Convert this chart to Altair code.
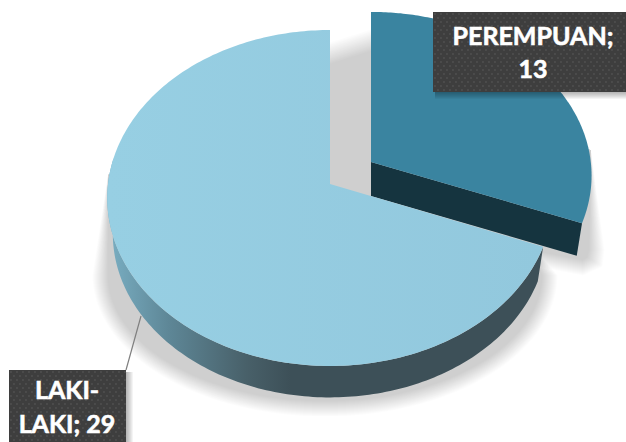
import altair as alt
import numpy as np
import pandas as pd

categories = ["PEREMPUAN", "LAKI-LAKI"]
values = [13, 29]

W, H = 626, 442
TOTAL = sum(values)
SPLIT = values[0] / TOTAL * 2 * np.pi

# perspective-tilted disc shared by both slices
A, B, K = 222.0, 166.8, 0.0833
DEPTH_SCALE = 0.975
RED_H, RED_V = 0.99, 0.975
RED_DEPTH, BLUE_DEPTH = 34.0, 36.0
CAKE = {"PEREMPUAN": (371.0, 162.0), "LAKI-LAKI": (330.0, 184.0)}

sx = alt.Scale(domain=[0, W], range=[0, W])
sy = alt.Scale(domain=[0, H], range=[0, H])


def arc(cx, cy, t0, t1, s=1.0, hs=1.0, vs=1.0, n=160):
    t = np.linspace(t0, t1, n)
    u, v = np.sin(t), -np.cos(t)
    d = 1 - K * v
    return np.c_[cx + s * hs * A * u / d, cy + s * vs * B * v / d]


def poly(points, **mark):
    pts = np.asarray(points)
    df = pd.DataFrame({"x": pts[:, 0], "y": pts[:, 1], "i": np.arange(len(pts))})
    return alt.Chart(df).mark_line(strokeWidth=0, interpolate="linear", **mark).encode(
        x=alt.X("x:Q", scale=sx, axis=None),
        y=alt.Y("y:Q", scale=sy, axis=None),
        order="i:Q",
    )


def box(x0, y0, x1, y1, **mark):
    df = pd.DataFrame({"x": [x0], "x2": [x1], "y": [y0], "y2": [y1]})
    return alt.Chart(df).mark_rect(**mark).encode(
        x=alt.X("x:Q", scale=sx, axis=None),
        x2="x2:Q",
        y=alt.Y("y:Q", scale=sy, axis=None),
        y2="y2:Q",
    )


layers = []
rx, ry = CAKE["PEREMPUAN"]
bx, by = CAKE["LAKI-LAKI"]

# flat grey floor shadow with a soft edge, built from stacked translucent outlines
STEPS = 16
SHADOW_ALPHA = 0.012
SHADOW_FLOOR = 416
for k in range(STEPS):
    e = 15 * (1 - k / (STEPS - 1)) - 7.5
    # behind the small slice and through the gap between the slices
    layers.append(
        poly(
            [
                [bx - 10, by - 128 - 1.4 * e],
                [rx, ry - 122 - 1.4 * e],
                [rx + 220, ry - 12],
                [rx + 226 + e, ry + 88],
                [rx + 224 + e, ry + 100 + e * 0.6],
                [rx + 212, ry + 106 + e],
                [rx + 160, ry + 96 + e],
                [bx, by + 10],
            ],
            fill="#000000",
            fillOpacity=SHADOW_ALPHA,
        )
    )
    # below the large slice: rounded at the foot, straight up to the widest point
    t = np.linspace(0, np.pi, 120)
    foot = np.c_[325 + (225 + e) * np.cos(t), 275 + (134 + e) * np.sin(t)]
    foot[:, 1] = np.minimum(foot[:, 1], SHADOW_FLOOR)
    layers.append(
        poly(
            np.vstack([foot, [[bx - 222, by - 10], [bx + 200, by + 60]]]),
            fill="#000000",
            fillOpacity=SHADOW_ALPHA,
        )
    )

# dark cut face of the pulled-out slice
top_end = arc(rx, ry, SPLIT, SPLIT, 1.0, RED_H, RED_V, 1)[0]
low_end = arc(rx, ry + RED_DEPTH, SPLIT, SPLIT, DEPTH_SCALE, RED_H, RED_V, 1)[0]
layers.append(poly([[rx, ry], top_end, low_end, [rx, ry + RED_DEPTH]], fill="#15343F"))
layers.append(poly(np.vstack([[rx, ry], arc(rx, ry, 0, SPLIT, 1.0, RED_H, RED_V)]), fill="#3A84A0"))

# curved rim of the large slice
rim_top = arc(bx, by, SPLIT, 1.55 * np.pi)
rim_low = arc(bx, by + BLUE_DEPTH, SPLIT, 1.55 * np.pi, DEPTH_SCALE)
layers.append(
    poly(
        np.vstack([rim_top, rim_low[::-1]]),
        fill=alt.Gradient(
            gradient="linear", x1=0, y1=0, x2=1, y2=0,
            stops=[
                alt.GradientStop(color="#7AAFC3", offset=0),
                alt.GradientStop(color="#5E8797", offset=0.14),
                alt.GradientStop(color="#486069", offset=0.32),
                alt.GradientStop(color="#3D5058", offset=0.42),
                alt.GradientStop(color="#3D5058", offset=1),
            ],
        ),
    )
)
layers.append(
    poly(
        np.vstack([[bx, by], arc(bx, by, SPLIT, 2 * np.pi, n=240)]),
        fill=alt.Gradient(
            gradient="linear", x1=0, y1=0, x2=1, y2=0,
            stops=[
                alt.GradientStop(color="#97CFE3", offset=0),
                alt.GradientStop(color="#92C8DD", offset=1),
            ],
        ),
    )
)

# leader line from the large slice to its label
leader = pd.DataFrame({"x": [141], "y": [316], "x2": [126], "y2": [370]})
layers.append(
    alt.Chart(leader).mark_rule(color="#7F7F7F", strokeWidth=1.2).encode(
        x=alt.X("x:Q", scale=sx, axis=None),
        y=alt.Y("y:Q", scale=sy, axis=None),
        x2="x2:Q",
        y2="y2:Q",
    )
)

# label plates with a staggered dot texture
PLATES = [
    (433, 12, 640, 92, [f"{categories[0]};", f"{values[0]}"], 533, [37, 70]),
    (9, 370, 126, 450, ["LAKI-", f"LAKI; {values[1]}"], 67, [391, 425]),
]
for x0, y0, x1, y1, lines, tx, tys in PLATES:
    for k in range(7, 0, -1):
        layers.append(box(x0 + 2, y0 + 2, x1 + k, y1 + k, color="#000000", opacity=0.045))
    layers.append(box(x0, y0, x1, y1, color="#3E3E3E"))
    rows = []
    for r, yy in enumerate(np.arange(y0 + 2, y1, 4)):
        for xx in np.arange(x0 + 2 + 3 * (r % 2), min(x1, W), 6):
            rows.append((xx, yy))
    dots = pd.DataFrame(rows, columns=["x", "y"])
    layers.append(
        alt.Chart(dots).mark_square(size=2.5, color="#545454", opacity=1).encode(
            x=alt.X("x:Q", scale=sx, axis=None),
            y=alt.Y("y:Q", scale=sy, axis=None),
        )
    )
    for line, ty in zip(lines, tys):
        t = pd.DataFrame({"x": [tx], "y": [ty], "t": [line]})
        layers.append(
            alt.Chart(t).mark_text(
                font="Lato", fontWeight="bold", fontSize=25, color="#FFFFFF",
                stroke="#FFFFFF", strokeWidth=0.6,
                align="center", baseline="middle",
            ).encode(
                x=alt.X("x:Q", scale=sx, axis=None),
                y=alt.Y("y:Q", scale=sy, axis=None),
                text="t:N",
            )
        )

chart = (
    alt.layer(*layers)
    .properties(width=W, height=H, padding=0, autosize=alt.AutoSizeParams(type="none"),
                background="#FFFFFF")
    .configure_view(stroke=None, clip=True)
)

chart.save("out.html", embed_options={"renderer": "svg", "actions": False})
